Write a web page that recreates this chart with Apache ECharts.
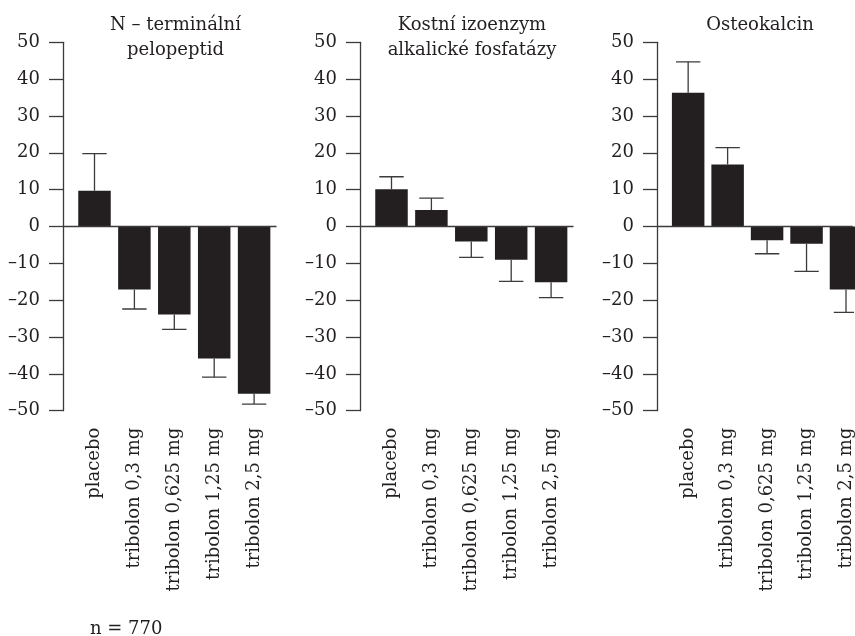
<!DOCTYPE html>
<html>
<head>
<meta charset="utf-8">
<script src="https://cdn.jsdelivr.net/npm/echarts@6/dist/echarts.min.js"></script>
<style>
  html, body { margin: 0; padding: 0; background: #fff; }
  #chart { width: 855px; height: 636px; }
</style>
</head>
<body>
<div id="chart"></div>
<script>
// Treatment groups (same order in every panel)
const categories = ['placebo', 'tribolon 0,3 mg', 'tribolon 0,625 mg', 'tribolon 1,25 mg', 'tribolon 2,5 mg'];

// Panel titles
const titles = ['N – terminální\npelopeptid', 'Kostní izoenzym\nalkalické fosfatázy', 'Osteokalcin'];

// Mean change (%) and the end of the error bar for each marker
const ntxMean = [9.7, -17.1, -23.9, -35.8, -45.4];
const ntxErr  = [19.8, -22.4, -27.9, -40.9, -48.2];

const bapMean = [10.1, 4.5, -4.1, -9.0, -15.1];
const bapErr  = [13.5, 7.7, -8.4, -14.9, -19.3];

const ocMean  = [36.3, 16.8, -3.7, -4.7, -17.1];
const ocErr   = [44.7, 21.4, -7.4, -12.2, -23.3];

// y-axis ticks
const yTicks = [-50, -40, -30, -20, -10, 0, 10, 20, 30, 40, 50];

const footnote = 'n = 770';

const panels = [
  { mean: ntxMean, err: ntxErr },
  { mean: bapMean, err: bapErr },
  { mean: ocMean,  err: ocErr }
];

const FONT = 'DejaVu Serif';
const INK = '#231f20';
const AXIS = '#3c3a3a';

const CANVAS_W = 855;
const panelLeft = [63.5, 360.5, 657.5];
const titleCenter = [170.5, 467, 755];
const plotTop = 42.3;
const plotHeight = 368.4;
const plotWidth = 213;
const step = 39.9;          // px between neighbouring bars
const firstOffset = 31;     // px from the y axis to the first bar centre
const xMin = 1 - firstOffset / step;
const positions = categories.map((c, i) => i + 1);

const chart = echarts.init(document.getElementById('chart'), null, { renderer: 'canvas' });

const grid = [], xAxis = [], yAxis = [], series = [], title = [];

panels.forEach((p, k) => {
  // the last panel runs off the right edge of the page, so its plot is cut there
  const w = Math.min(plotWidth, CANVAS_W - panelLeft[k]);
  const xMax = xMin + w / step;

  grid.push({ left: panelLeft[k], top: plotTop, width: w, height: plotHeight, containLabel: false });

  xAxis.push({
    type: 'value', gridIndex: k, min: xMin, max: xMax,
    axisLine: { show: false, onZero: false },
    axisTick: { show: false },
    splitLine: { show: false },
    axisLabel: {
      customValues: positions,
      rotate: 90,
      margin: 17,
      color: INK,
      fontFamily: FONT,
      fontSize: 18,
      formatter: v => categories[Math.round(v) - 1] || ''
    }
  });

  yAxis.push({
    type: 'value', gridIndex: k, min: yTicks[0], max: yTicks[yTicks.length - 1], interval: 10,
    axisLine: { show: true, lineStyle: { color: AXIS, width: 1.3 } },
    axisTick: { show: true, length: 14.5, lineStyle: { color: AXIS, width: 1.3 } },
    splitLine: { show: false },
    axisLabel: {
      margin: 23.5,
      color: INK,
      fontFamily: FONT,
      fontSize: 18,
      formatter: v => (v < 0 ? '\u2013' + Math.abs(v) : String(v))
    }
  });

  series.push({
    type: 'bar',
    xAxisIndex: k, yAxisIndex: k,
    barWidth: 32.5,
    itemStyle: { color: INK },
    data: p.mean.map((v, i) => [positions[i], v]),
    markLine: {
      silent: true,
      symbol: 'none',
      label: { show: false },
      lineStyle: { color: AXIS, width: 1.3, type: 'solid' },
      data: [{ yAxis: 0 }]
    },
    z: 2
  });

  series.push({
    type: 'custom',
    xAxisIndex: k, yAxisIndex: k,
    data: p.mean.map((v, i) => [positions[i], v, p.err[i]]),
    encode: { x: 0, y: [1, 2] },
    clip: true,
    renderItem: (params, api) => {
      const x = api.value(0);
      const a = api.coord([x, api.value(1)]);
      const b = api.coord([x, api.value(2)]);
      const half = 12.2;
      const style = { stroke: AXIS, lineWidth: 1.3, fill: null };
      return {
        type: 'group',
        children: [
          { type: 'line', shape: { x1: a[0], y1: a[1], x2: b[0], y2: b[1] }, style },
          { type: 'line', shape: { x1: b[0] - half, y1: b[1], x2: b[0] + half, y2: b[1] }, style }
        ]
      };
    },
    z: 3
  });

  title.push({
    text: titles[k],
    left: titleCenter[k],
    top: 8,
    textAlign: 'center',
    textStyle: { fontFamily: FONT, fontSize: 18, fontWeight: 'normal', color: INK, lineHeight: 25 }
  });
});

title.push({
  text: footnote,
  left: 85,
  top: 615,
  textStyle: { fontFamily: FONT, fontSize: 18, fontWeight: 'normal', color: INK }
});

chart.setOption({
  backgroundColor: '#ffffff',
  animation: false,
  title, grid, xAxis, yAxis, series
});
</script>
</body>
</html>
